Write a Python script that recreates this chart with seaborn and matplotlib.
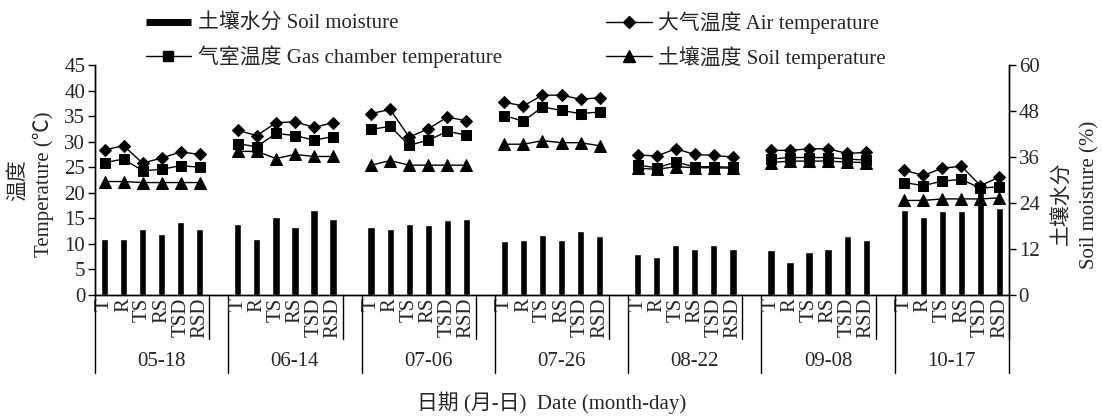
import numpy as np
import pandas as pd
import seaborn as sns
from matplotlib import pyplot as plt
from matplotlib.lines import Line2D

dates = ['05-18', '06-14', '07-06', '07-26', '08-22', '09-08', '10-17']
treatments = ['T', 'R', 'TS', 'RS', 'TSD', 'RSD']

# soil moisture (%), right axis
soil_moisture = [14.6, 14.6, 17.3, 16.0, 19.0, 17.3,
                 18.6, 14.6, 20.4, 17.8, 22.1, 19.9,
                 17.8, 17.3, 18.6, 18.2, 19.5, 19.9,
                 14.0, 14.4, 15.7, 14.4, 16.6, 15.4,
                 10.8, 10.0, 13.0, 12.1, 13.0, 12.1,
                 11.7, 8.6, 11.2, 12.1, 15.3, 14.4,
                 22.3, 20.4, 21.9, 21.9, 28.5, 22.7]
# temperatures (C), left axis
air_temp = [28.4, 29.2, 25.8, 26.8, 28.0, 27.5,
            32.2, 31.2, 33.7, 33.9, 32.8, 33.7,
            35.5, 36.3, 30.9, 32.5, 34.8, 34.1,
            37.7, 37.0, 39.1, 39.1, 38.3, 38.6,
            27.4, 27.2, 28.6, 27.5, 27.3, 27.0,
            28.3, 28.3, 28.6, 28.6, 27.7, 27.9,
            24.4, 23.4, 24.8, 25.2, 21.4, 23.1]
chamber_temp = [25.9, 26.6, 24.3, 24.6, 25.3, 25.0,
                29.6, 29.0, 31.6, 31.2, 30.3, 31.0,
                32.4, 33.0, 29.3, 30.3, 32.0, 31.3,
                35.1, 34.0, 36.8, 36.1, 35.5, 35.8,
                25.4, 24.9, 26.0, 25.1, 25.1, 25.0,
                26.6, 26.9, 26.9, 26.9, 26.6, 26.4,
                22.0, 21.4, 22.3, 22.6, 20.9, 21.2]
soil_temp = [22.2, 22.2, 22.0, 22.0, 22.0, 22.0,
             28.1, 28.1, 26.7, 27.5, 27.1, 27.1,
             25.4, 26.3, 25.4, 25.4, 25.4, 25.4,
             29.5, 29.5, 30.2, 29.8, 29.8, 29.2,
             24.8, 24.6, 25.1, 24.9, 24.9, 24.8,
             25.9, 26.2, 26.2, 26.2, 26.0, 25.9,
             18.5, 18.5, 18.8, 18.8, 18.8, 19.0]

sns.set_theme(style='white')
plt.rcParams['font.family'] = ['Liberation Serif', 'Noto Sans CJK SC']
plt.rcParams['axes.unicode_minus'] = False
FS = 15

# one blank slot between date groups, like the excel category axis
n_t = len(treatments)
slot = n_t + 1
df = pd.DataFrame({
    'date': np.repeat(dates, n_t),
    'treat': treatments * len(dates),
    'pos': [g * slot + i for g in range(len(dates)) for i in range(n_t)],
    'moist': soil_moisture,
    'air': air_temp,
    'chamber': chamber_temp,
    'soilt': soil_temp,
})

W, H = 1102, 419
fig = plt.figure(figsize=(W / 100, H / 100), dpi=100)
x0, x1, y0, y1 = 95, 1009, 295, 65
ax1 = fig.add_axes([x0 / W, 1 - y0 / H, (x1 - x0) / W, (y0 - y1) / H])
ax2 = ax1.twinx()
ax1.set_zorder(2)
ax1.patch.set_visible(False)
ax2.set_zorder(1)

sns.barplot(data=df, x='pos', y='moist', native_scale=True, width=0.38,
            color='black', saturation=1, errorbar=None, ax=ax2)

for col, mk, ms in [('air', 'D', 6.5), ('chamber', 's', 6.5), ('soilt', '^', 8)]:
    sns.lineplot(data=df, x='pos', y=col, units='date', estimator=None,
                 color='black', lw=1, marker=mk, markersize=ms,
                 markeredgecolor='black', ax=ax1, legend=False)

xmax = len(dates) * slot - 1
ax1.set_xlim(-0.5, xmax - 0.5)
ax1.set_ylim(0, 45)
ax2.set_ylim(0, 60)
ax1.set_yticks(np.arange(0, 46, 5))
ax2.set_yticks(np.arange(0, 61, 12))
ax1.set_xticks(np.arange(-0.5, xmax, 1))
ax1.tick_params(axis='x', direction='in', length=5, width=1, color='black',
                labelbottom=False)
ax1.tick_params(axis='y', direction='out', length=5, width=1, color='black',
                labelsize=FS, pad=2)
ax2.tick_params(axis='y', direction='out', length=5, width=1, color='black',
                labelsize=FS, pad=2)
for a in (ax1, ax2):
    a.set_xlabel('')
    a.set_ylabel('')
    a.spines['top'].set_visible(False)
    for s in ('left', 'right', 'bottom'):
        a.spines[s].set_color('black')
        a.spines[s].set_linewidth(1)

# multi-level category labels under the axis
tr = ax1.get_xaxis_transform()
def ay(py):
    return (y0 - py) / (y0 - y1)

for g, d in enumerate(dates):
    for i, t in enumerate(treatments):
        ax1.text(g * slot + i, ay(298), t, rotation=90, ha='center', va='top',
                 fontsize=FS, transform=tr)
    left = g * slot - 0.5
    right = g * slot + n_t - 0.5
    ax1.add_line(Line2D([right, right], [0, ay(339)], transform=tr,
                        color='black', lw=1, clip_on=False))
    ax1.add_line(Line2D([left, left], [0, ay(373)], transform=tr,
                        color='black', lw=1, clip_on=False))
    ax1.text((left + right) / 2 if g == len(dates) - 1 else left + slot / 2,
             ay(361), d, ha='center', va='center', fontsize=FS, transform=tr)
ax1.add_line(Line2D([xmax - 0.5, xmax - 0.5], [0, ay(373)], transform=tr,
                    color='black', lw=1, clip_on=False))
ax1.set_xlim(-0.5, xmax - 0.5)

fig.text(552 / W, 1 - 403 / H, '日期 (月-日)  Date (month-day)',
         ha='center', va='center', fontsize=FS)
fig.text(18 / W, 1 - 180 / H, '温度', rotation=90, ha='center', va='center',
         fontsize=FS)
fig.text(43 / W, 1 - 184 / H, 'Temperature (℃)', rotation=90, ha='center',
         va='center', fontsize=FS)
fig.text(1063 / W, 1 - 203 / H, '土壤水分', rotation=90, ha='center',
         va='center', fontsize=FS)
fig.text(1090 / W, 1 - 195 / H, 'Soil moisture (%)', rotation=90, ha='center',
         va='center', fontsize=FS)

handles = [
    Line2D([], [], color='black', lw=5, solid_capstyle='butt'),
    Line2D([], [], color='black', lw=1, marker='s', markersize=6.5),
    Line2D([], [], color='black', lw=1, marker='D', markersize=6.5),
    Line2D([], [], color='black', lw=1, marker='^', markersize=8),
]
labels = ['土壤水分 Soil moisture', '气室温度 Gas chamber temperature',
          '大气温度 Air temperature', '土壤温度 Soil temperature']
fig.legend(handles, labels, ncol=2, loc='upper left',
           bbox_to_anchor=(131 / W, 1 + 3 / H), frameon=False, fontsize=FS,
           handlelength=2.2, handletextpad=0.3, columnspacing=5.0,
           labelspacing=0.55, borderpad=0.2)

fig.savefig('out.png', dpi=100)
